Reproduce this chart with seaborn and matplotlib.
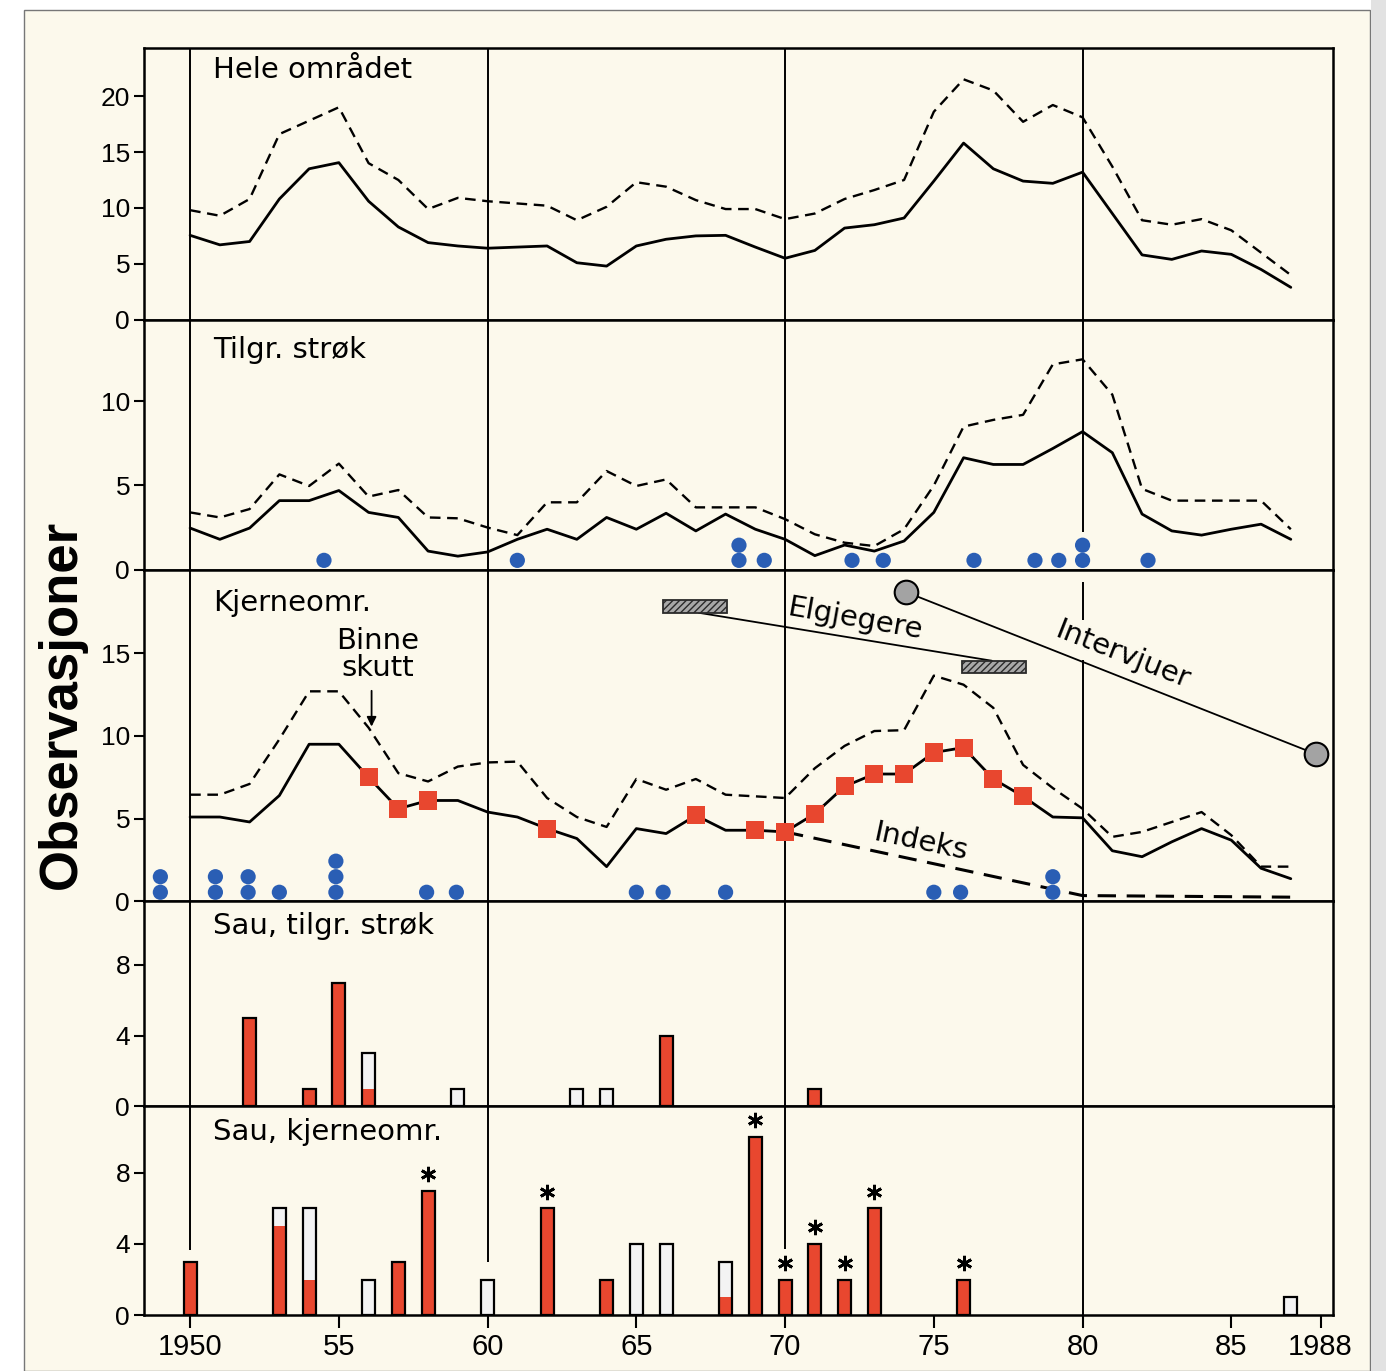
import matplotlib
matplotlib.use("Agg")
import matplotlib.pyplot as plt
from matplotlib.patches import Rectangle
import seaborn as sns
import numpy as np
import pandas as pd

# --- data ---
years = list(range(1950, 1988))

hele_solid = [7.55, 6.7, 7.0, 10.8, 13.5, 14.05, 10.6, 8.3, 6.9, 6.6, 6.4, 6.5, 6.6, 5.1, 4.8,
              6.6, 7.2, 7.5, 7.55, 6.5, 5.5, 6.2, 8.2, 8.5, 9.1, 12.4, 15.8, 13.5, 12.4, 12.2,
              13.2, 9.5, 5.8, 5.4, 6.15, 5.85, 4.5, 2.9]
hele_dashed = [9.8, 9.3, 10.8, 16.6, 17.8, 19.0, 14.0, 12.5, 9.9, 10.9, 10.6, 10.4, 10.2, 8.9, 10.1,
               12.3, 11.9, 10.7, 9.9, 9.9, 9.0, 9.5, 10.8, 11.6, 12.5, 18.6, 21.5, 20.5, 17.7, 19.2,
               18.1, 13.7, 8.9, 8.5, 9.0, 8.0, 6.0, 4.0]

tilgr_solid = [2.47, 1.8, 2.47, 4.1, 4.1, 4.7, 3.4, 3.1, 1.1, 0.8, 1.05, 1.8, 2.4, 1.8, 3.1,
               2.4, 3.35, 2.3, 3.3, 2.4, 1.8, 0.83, 1.46, 1.1, 1.7, 3.4, 6.65, 6.25, 6.25, 7.2,
               8.2, 6.95, 3.3, 2.3, 2.05, 2.4, 2.7, 1.8]
tilgr_dashed = [3.4, 3.1, 3.6, 5.66, 4.97, 6.3, 4.34, 4.73, 3.1, 3.05, 2.5, 2.05, 4.0, 4.0, 5.86,
                4.97, 5.36, 3.7, 3.7, 3.7, 3.0, 2.1, 1.6, 1.4, 2.4, 5.0, 8.5, 8.9, 9.2, 12.2,
                12.5, 10.4, 4.8, 4.1, 4.1, 4.1, 4.1, 2.4]
tilgr_dots = [1954.5, 1961.0, 1968.45, 1968.45, 1969.3, 1972.25, 1973.3, 1976.35, 1978.4,
              1979.2, 1980.0, 1980.0, 1982.2]

kjerne_solid = [5.1, 5.1, 4.8, 6.4, 9.5, 9.5, 7.5, 5.6, 6.1, 6.1, 5.4, 5.1, 4.4, 3.8, 2.1,
                4.4, 4.1, 5.2, 4.3, 4.3, 4.2, 5.3, 6.95, 7.7, 7.7, 9.0, 9.3, 7.4, 6.35, 5.1,
                5.05, 3.06, 2.7, 3.6, 4.4, 3.7, 2.0, 1.37]
kjerne_dashed = [6.45, 6.45, 7.1, 9.8, 12.7, 12.7, 10.5, 7.75, 7.25, 8.15, 8.4, 8.45, 6.25, 5.1, 4.5,
                 7.4, 6.75, 7.4, 6.45, 6.35, 6.25, 8.05, 9.4, 10.3, 10.35, 13.65, 13.1, 11.7, 8.25, 6.85,
                 5.6, 3.9, 4.2, 4.8, 5.4, 4.0, 2.1, 2.1]
kjerne_square_years = [1956, 1957, 1958, 1962, 1967, 1969, 1970, 1971, 1972, 1973, 1974,
                       1975, 1976, 1977, 1978]
kjerne_dots = [1949.0, 1949.0, 1950.85, 1950.85, 1951.95, 1951.95, 1953.0, 1954.9, 1954.9,
               1954.9, 1957.95, 1958.95, 1965.0, 1965.9, 1968.0, 1975.0, 1975.9, 1979.0, 1979.0]
indeks_years = [1970, 1980, 1987.3]
indeks_vals = [4.2, 0.35, 0.25]
elg_years = [1965.9, 1975.95]
elg_vals = [17.45, 13.8]
intervju_years = [1974.07, 1987.85]
intervju_vals = [18.7, 8.9]

sau_tilgr_years = [1952, 1954, 1955, 1956, 1959, 1963, 1964, 1966, 1971]
sau_tilgr_red = [5, 1, 7, 1, 0, 0, 0, 4, 1]
sau_tilgr_white = [0, 0, 0, 2, 1, 1, 1, 0, 0]

sau_kjerne_years = [1950, 1953, 1954, 1956, 1957, 1958, 1960, 1962, 1964, 1965, 1966, 1968,
                    1969, 1970, 1971, 1972, 1973, 1976, 1987]
sau_kjerne_red = [3, 5, 2, 0, 3, 7, 0, 6, 2, 0, 0, 1, 10, 2, 4, 2, 6, 2, 0]
sau_kjerne_white = [0, 1, 4, 2, 0, 0, 2, 0, 0, 4, 4, 2, 0, 0, 0, 0, 0, 0, 1]
star_years = [1958, 1962, 1969, 1970, 1971, 1972, 1973, 1976]

panel_titles = ["Hele området", "Tilgr. strøk", "Kjerneomr.", "Sau, tilgr. strøk", "Sau, kjerneomr."]
panel_yticks = [[0, 5, 10, 15, 20], [0, 5, 10], [0, 5, 10, 15], [0, 4, 8], [0, 4, 8]]
panel_ylims = [24.3, 14.85, 20.06, 11.6, 11.75]
xtick_pos = [1950, 1955, 1960, 1965, 1970, 1975, 1980, 1985, 1988]
xtick_labels = ["1950", "55", "60", "65", "70", "75", "80", "85", "1988"]

# --- style ---
CREAM = "#fcf9ec"
RED = "#e8472f"
BLUE = "#2a5eb4"
LABEL_FONT = ["DejaVu Sans"]
LABEL_SIZE = 21
sns.set_theme(style="ticks")
plt.rcParams["font.family"] = ["Liberation Sans", "DejaVu Sans"]
plt.rcParams["text.color"] = "black"
plt.rcParams["hatch.linewidth"] = 1.0

fig = plt.figure(figsize=(13.86, 13.71), dpi=100)
fig.patch.set_facecolor("white")
fig.add_artist(Rectangle((24 / 1386, 0), (1370 - 24) / 1386, 1 - 10 / 1371,
                         transform=fig.transFigure, facecolor=CREAM,
                         edgecolor="#777777", lw=1.0, zorder=-10))
fig.add_artist(Rectangle((1371 / 1386, 0), 15 / 1386, 1, transform=fig.transFigure,
                         facecolor="#e2e2e2", edgecolor="none", zorder=-10))

gs = fig.add_gridspec(5, 1, height_ratios=[272, 250, 332, 205, 209], hspace=0,
                      left=0.1039, right=0.9618, top=0.965, bottom=0.0408)
axes = [fig.add_subplot(gs[i]) for i in range(5)]

for i, ax in enumerate(axes):
    ax.set_facecolor(CREAM)
    ax.set_xlim(1948.45, 1988.42)
    ax.set_ylim(0, panel_ylims[i])
    ax.set_yticks(panel_yticks[i])
    ax.tick_params(axis="y", direction="out", length=7, width=1.5, labelsize=19, pad=3,
                   colors="black")
    for sp in ax.spines.values():
        sp.set_linewidth(1.8)
        sp.set_color("black")
    if i < 4:
        ax.tick_params(axis="x", bottom=False, labelbottom=False)
    ax.text(0.058, [0.919, 0.88, 0.90, 0.878, 0.876][i], panel_titles[i],
            transform=ax.transAxes, fontsize=LABEL_SIZE, family=LABEL_FONT,
            va="center", ha="left", color="black")

# vertical decade lines (with the gaps seen in the figure)
vl = dict(color="black", lw=1.4, zorder=1)
for ax in axes[:2] + axes[3:4]:
    for d in [1950, 1960, 1970]:
        ax.vlines(d, 0, 30, **vl)
axes[0].vlines(1980, 0, 30, **vl)
axes[1].vlines(1980, 2.25, 30, **vl)
axes[3].vlines(1980, 0, 30, **vl)
for d in [1950, 1960, 1970]:
    axes[2].vlines(d, 0, 30, **vl)
axes[2].vlines(1980, 0, 14.6, **vl)
axes[2].vlines(1980, 17.0, 19.3, **vl)
axes[4].vlines(1950, 3.65, 30, **vl)
axes[4].vlines(1960, 3.0, 30, **vl)
axes[4].vlines(1970, 3.7, 30, **vl)
axes[4].vlines(1980, 0, 30, **vl)

# line panels
dash = (0, (4.5, 2.8))
line_sets = [(hele_solid, hele_dashed), (tilgr_solid, tilgr_dashed), (kjerne_solid, kjerne_dashed)]
for ax, (solid, dashed) in zip(axes[:3], line_sets):
    df = pd.DataFrame({"year": years, "solid": solid, "dashed": dashed})
    sns.lineplot(data=df, x="year", y="solid", ax=ax, color="black", lw=2.0, zorder=3)
    sns.lineplot(data=df, x="year", y="dashed", ax=ax, color="black", lw=1.7,
                 linestyle=dash, zorder=3)
    ax.set_xlabel("")
    ax.set_ylabel("")


def stack_dots(ax, dot_years, base, step):
    xs, ys, seen = [], [], {}
    for y in dot_years:
        k = seen.get(y, 0)
        seen[y] = k + 1
        xs.append(y)
        ys.append(base + k * step)
    sns.scatterplot(x=xs, y=ys, ax=ax, color=BLUE, s=120, edgecolor="none",
                    zorder=4, clip_on=False)


stack_dots(axes[1], tilgr_dots, 0.55, 0.9)
stack_dots(axes[2], kjerne_dots, 0.55, 0.94)

# red squares on the core-area line
kj = pd.DataFrame({"year": years, "val": kjerne_solid})
sq = kj[kj["year"].isin(kjerne_square_years)]
sns.scatterplot(data=sq, x="year", y="val", ax=axes[2], marker="s", color=RED, s=170,
                edgecolor="none", zorder=5)
axes[2].set_xlabel("")
axes[2].set_ylabel("")

txt = dict(fontsize=LABEL_SIZE, family=LABEL_FONT, ha="center", va="center",
           rotation_mode="anchor", color="black")

# Indeks
axes[2].plot(indeks_years, indeks_vals, color="black", lw=2.2, linestyle=(0, (6, 3.5)), zorder=3)
axes[2].text(1974.54, 3.56, "Indeks", rotation=-12, **txt)

# Binne skutt
axes[2].text(1956.3, 14.9, "Binne\nskutt", linespacing=0.95, **txt)
axes[2].annotate("", xy=(1956.1, 10.4), xytext=(1956.1, 12.9),
                 arrowprops=dict(arrowstyle="-|>", color="black", lw=1.3, mutation_scale=14))

# Elgjegere
for x0, y0 in zip(elg_years, elg_vals):
    axes[2].add_patch(Rectangle((x0, y0), 2.15, 0.75, facecolor="#a8a8a8", edgecolor="#2a2a2a",
                                hatch="/////", lw=1.3, zorder=4))
axes[2].plot([elg_years[0] + 1.2, elg_years[1] + 1.0], [elg_vals[0], elg_vals[1] + 0.75],
             color="black", lw=1.3, zorder=3)
axes[2].text(1972.35, 17.04, "Elgjegere", rotation=-10, **txt)

# Intervjuer
axes[2].plot(intervju_years, intervju_vals, color="black", lw=1.3, marker="o", ms=17,
             mfc="#a3a3a3", mec="black", mew=1.5, zorder=6, clip_on=False)
axes[2].text(1981.33, 14.92, "Intervjuer", rotation=-21.5, **txt)


# bar panels
def bars(ax, yrs, red, white):
    red = np.array(red)
    white = np.array(white)
    ax.bar(yrs, red, width=0.44, color=RED, edgecolor="none", zorder=3)
    ax.bar(yrs, white, bottom=red, width=0.44, color="#f3f3f3", edgecolor="none", zorder=3)
    ax.bar(yrs, red + white, width=0.44, fill=False, edgecolor="black", lw=1.6, zorder=4)
    return red + white


bars(axes[3], sau_tilgr_years, sau_tilgr_red, sau_tilgr_white)
tot = bars(axes[4], sau_kjerne_years, sau_kjerne_red, sau_kjerne_white)
tot_map = dict(zip(sau_kjerne_years, tot))
axes[4].plot(star_years, [tot_map[y] + 0.95 for y in star_years], ls="none",
             marker=(6, 2, 0), ms=11, mew=2.0, color="black", zorder=5)

axes[4].set_xticks(xtick_pos)
axes[4].set_xticklabels(xtick_labels)
axes[4].tick_params(axis="x", direction="out", length=9, width=1.5, labelsize=21, pad=4,
                    colors="black")

fig.text(0.045, 0.486, "Observasjoner", rotation=90, fontsize=38, fontweight="bold",
         ha="center", va="center", color="black")

fig.savefig("out.png", dpi=100, facecolor=fig.get_facecolor())
